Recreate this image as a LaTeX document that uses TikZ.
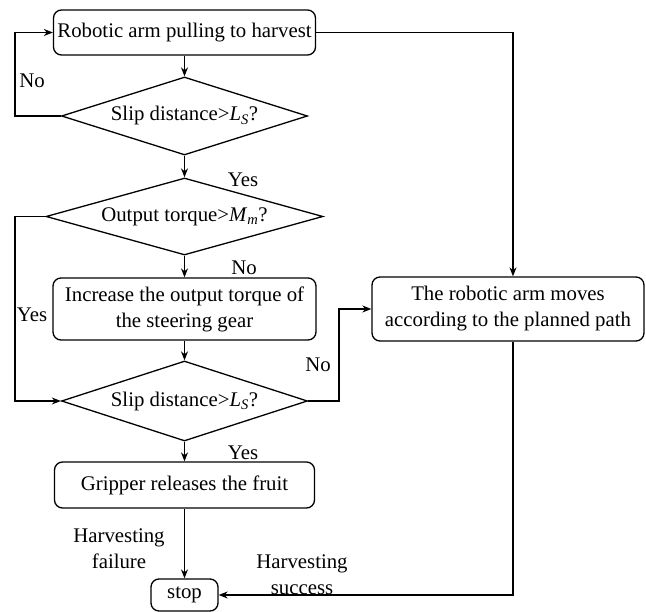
\documentclass[tikz,border=0pt]{standalone}
\usepackage{fontspec}
\setmainfont{Liberation Serif}
\usetikzlibrary{shapes.geometric,arrows.meta}
\begin{document}
\begin{tikzpicture}[x=1pt,y=-1pt,
  txt/.style={font=\fontsize{20.8}{26}\selectfont},
  box/.style={txt, draw, rounded corners=8pt, line width=1.3pt, align=center, inner sep=0pt},
  dia/.style={txt, draw, diamond, line width=1.3pt, inner sep=0pt, shape aspect=3},
  lab/.style={txt, inner sep=0pt, align=center},
  arr/.style={-{Stealth[length=9pt,width=7pt]}, line width=1.3pt},
  ln/.style={line width=1.3pt}]
\useasboundingbox (0,0) rectangle (646,612);
\node[box, minimum width=262pt, minimum height=45pt] (b1) at (184.5,32.5) {Robotic arm pulling to harvest};
\node[dia, minimum width=246pt, minimum height=78pt] (d1) at (184.5,116) {Slip distance>\textit{L}\textsubscript{\textit{S}}?};
\node[dia, minimum width=277pt, minimum height=77pt] (d2) at (184.5,216.5) {Output torque>\textit{M}\textsubscript{\textit{m}}?};
\node[box, minimum width=263pt, minimum height=62pt] (b3) at (184.5,309) {Increase the output torque of\\the steering gear};
\node[dia, minimum width=246pt, minimum height=80pt] (d3) at (184.5,401) {Slip distance>\textit{L}\textsubscript{\textit{S}}?};
\node[box, minimum width=272pt, minimum height=64pt] (b4) at (508,309) {The robotic arm moves\\according to the planned path};
\node[box, minimum width=260pt, minimum height=46pt] (b5) at (184.5,485) {Gripper releases the fruit};
\node[box, minimum width=67pt, minimum height=32pt] (stop) at (184.5,595) {stop};
\coordinate (L) at (15,0);
\coordinate (N) at (339,0);
\coordinate (R) at (513,0);
% connectors
\draw[arr] (b1.south) -- (d1.north);
\draw[arr] (d1.west) -- (d1.west -| L) |- (b1.west);
\draw[arr] (d1.south) -- (d2.north);
\draw[arr] (d2.south) -- (b3.north);
\draw[arr] (d2.west) -- (d2.west -| L) |- (d3.west);
\draw[arr] (b3.south) -- (d3.north);
\draw[arr] (d3.east) -- (d3.east -| N) |- (b4.west);
\draw[arr] (b1.east) -- (b1.east -| R) -- (R |- b4.north);
\draw[arr] (d3.south) -- (b5.north);
\draw[arr] (b5.south) -- (stop.north);
\draw[arr] (R |- b4.south) |- (stop.east);
% labels
\node[lab] (l1) at (32,81) {No};
\node[lab] (l2) at (243,180) {Yes};
\node[lab] (l3) at (244,268) {No};
\node[lab] (l4) at (32,315) {Yes};
\node[lab] (l5) at (318,365) {No};
\node[lab] (l6) at (243,453) {Yes};
\node[lab] (l7) at (119,549) {Harvesting\\failure};
\node[lab] (l8) at (302,575) {Harvesting\\success};
\end{tikzpicture}
\end{document}
